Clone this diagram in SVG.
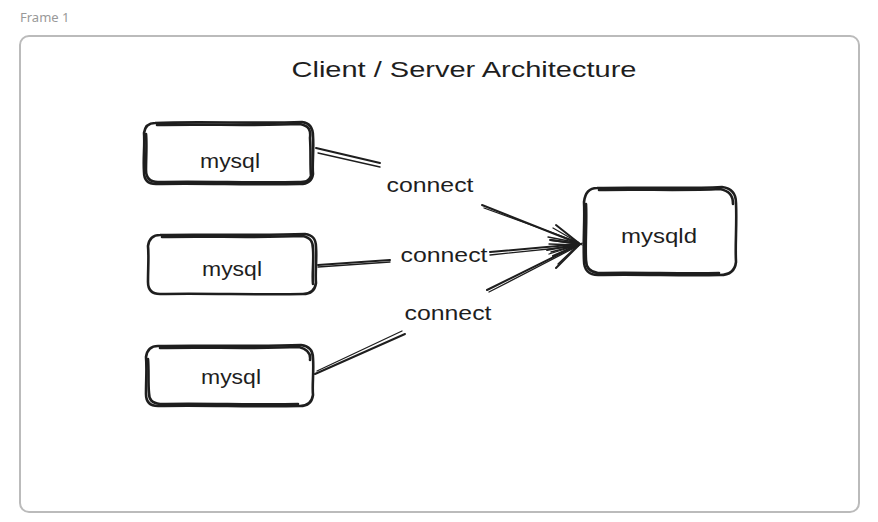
<svg xmlns="http://www.w3.org/2000/svg" width="878" height="522" viewBox="0 0 878 522">
<style>
.frame{fill:#fff;stroke:#bbb;stroke-width:2}
.ftitle{font-family:"Noto Sans","Liberation Sans",sans-serif;font-size:13px;fill:#999}
.box{fill:none;stroke:#1e1e1e;stroke-width:2.6;stroke-linecap:round;stroke-linejoin:round}
.t{font-family:"Liberation Sans","DejaVu Sans",sans-serif;fill:#1e1e1e;text-anchor:middle}
.ln{fill:none;stroke:#1e1e1e;stroke-width:2;stroke-linecap:round}
.ln2{fill:none;stroke:#1e1e1e;stroke-width:1.3;stroke-linecap:round}
</style>
<rect width="878" height="522" fill="#fff"/>
<text class="ftitle" x="20" y="22">Frame 1</text>
<rect class="frame" x="20" y="36" width="839" height="476" rx="9"/>
<text class="t" x="464" y="77" font-size="22" textLength="345" lengthAdjust="spacingAndGlyphs">Client / Server Architecture</text>

<g id="client1">
<path class="box" d="M155,123 C200,121 260,124 302,122 C310,123 313,128 313,136 C314,150 312,165 313,174 C312,181 308,184 300,184 C250,185 200,183 156,184 C148,184 144,180 144,172 C143,158 145,145 144,133 C145,126 149,123 155,123 Z"/>
<path class="box" d="M157,125 C205,124 255,126 300,124 C309,126 311,130 310,138 C311,152 310,166 311,176 C309,182 305,182 298,182 C250,183 205,181 158,182 C150,182 146,178 146,170 C146,158 147,144 146,134"/>
<text class="t" x="230" y="168" font-size="20" textLength="60" lengthAdjust="spacingAndGlyphs">mysql</text>
</g>
<g id="client2">
<path class="box" d="M160,235 C205,234 260,236 305,234 C313,235 316,239 316,247 C317,260 315,272 316,283 C315,290 311,294 303,294 C255,295 205,293 160,294 C152,294 148,290 148,282 C148,268 149,256 148,246 C149,239 153,235 160,235 Z"/>
<path class="box" d="M162,237 C208,236 258,238 303,236 C311,238 313,242 313,249 C314,262 312,273 313,284"/>
<text class="t" x="232" y="276" font-size="20" textLength="60" lengthAdjust="spacingAndGlyphs">mysql</text>
</g>
<g id="client3">
<path class="box" d="M158,346 C205,345 255,347 301,345 C309,346 313,350 313,358 C314,372 312,385 313,395 C312,402 308,406 300,406 C250,407 205,405 158,406 C150,406 146,402 146,394 C146,380 147,368 146,357 C147,350 151,346 158,346 Z"/>
<path class="box" d="M160,348 C207,347 253,349 299,347 C307,349 311,353 310,360 M148,359 C149,370 148,383 149,393 C149,400 152,403 160,404 C205,403 250,405 298,404"/>
<text class="t" x="231" y="384" font-size="20" textLength="60" lengthAdjust="spacingAndGlyphs">mysql</text>
</g>
<g id="server">
<path class="box" d="M597,188 C640,187 685,189 722,187 C731,188 736,193 736,203 C737,225 735,245 736,262 C735,271 730,275 720,275 C680,276 640,274 598,275 C589,275 584,270 584,261 C583,240 585,220 584,202 C585,193 589,188 597,188 Z"/>
<path class="box" d="M599,190 C642,189 683,191 720,189 C729,191 733,195 733,204 M586,204 C587,222 585,242 586,260 C586,268 590,272 598,273 C640,272 680,274 719,273"/>
<text class="t" x="659" y="243" font-size="20" textLength="76" lengthAdjust="spacingAndGlyphs">mysqld</text>
</g>

<g id="connectors">
<path class="ln" d="M316,148 L380,163"/>
<path class="ln2" d="M318,153 L380,167"/>
<path class="ln" d="M482,205 L580,244"/>
<path class="ln2" d="M484,208 L578,242"/>
<path class="ln" d="M556,225 L580,244 L550,240"/>
<path class="ln2" d="M553,228 L579,243 L548,237"/>

<path class="ln" d="M318,265 L390,260"/>
<path class="ln2" d="M318,267 L390,262"/>
<path class="ln" d="M490,252 L580,244"/>
<path class="ln2" d="M490,255 L578,246"/>
<path class="ln" d="M551,240 L580,244 L553,256"/>
<path class="ln2" d="M549,244 L578,245 L551,252"/>

<path class="ln" d="M315,374 L405,334"/>
<path class="ln2" d="M317,371 L402,331"/>
<path class="ln" d="M487,290 L580,244"/>
<path class="ln2" d="M489,292 L578,246"/>
<path class="ln" d="M547,250 L580,244 L556,268"/>
<path class="ln2" d="M549,254 L578,245 L558,264"/>

<text class="t" x="430" y="192" font-size="20" textLength="87" lengthAdjust="spacingAndGlyphs">connect</text>
<text class="t" x="444" y="262" font-size="20" textLength="87" lengthAdjust="spacingAndGlyphs">connect</text>
<text class="t" x="448" y="320" font-size="20" textLength="87" lengthAdjust="spacingAndGlyphs">connect</text>
</g>
</svg>
